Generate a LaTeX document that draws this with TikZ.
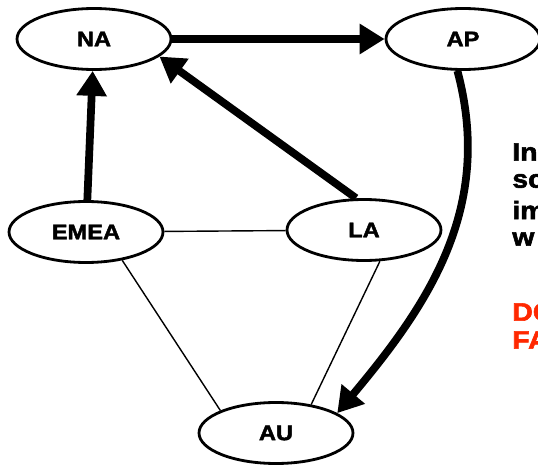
\documentclass[tikz,border=0pt]{standalone}
\usepackage{fontspec}
\setmainfont{Liberation Sans}
\newfontfamily\heavyfont[FakeBold=2.2,FakeStretch=1.12]{Liberation Sans Bold}
\usetikzlibrary{arrows.meta,shapes.geometric}
\definecolor{AlarmRed}{RGB}{255,40,0}

\begin{document}
\begin{tikzpicture}[x=0.02cm,y=-0.02cm,
    region/.style={ellipse,draw,line width=1.6pt,minimum width=3.08cm,
      minimum height=1.22cm,inner sep=0pt,font=\heavyfont\large},
    flow/.style={line width=4.4pt,-{Triangle[length=0.5cm,width=0.58cm]}},
    link/.style={line width=0.8pt},
    note/.style={anchor=west,font=\heavyfont\Large,inner sep=0pt}]
  \clip (0,0) rectangle (538,466);
  % regions
  \node[region] (na) at (94,39) {NA};
  \node[region] (ap) at (463,39) {AP};
  \node[region] (emea) at (86,232) {EMEA};
  \node[region] (la) at (364,230) {LA};
  \node[region] (au) at (276,433) {AU};
  % thick flows
  \draw[flow] (na) -- (ap);
  \draw[flow] (emea) -- (na);
  \draw[flow] (la.north) ++(-8,0) coordinate (lastart) -- (na.-15);
  \draw[flow] (ap.-100) to[out=-75,in=50] (au.18);
  % thin links
  \draw[link] (emea) -- (la);
  \draw[link] (emea.-38) -- (au.158);
  \draw[link] (la.-63) -- (au.39);
  % text at the right edge
  \node[note] (t1) at (512,152) {In};
  \node[note] (t2) at (512,181) {sc};
  \node[note] (t3) at (512,210) {im};
  \node[note] (t4) at (512,239) {w};
  \node[note,text=AlarmRed] (t5) at (512,312) {DO};
  \node[note,text=AlarmRed] (t6) at (512,340) {FA};
\end{tikzpicture}
\end{document}
